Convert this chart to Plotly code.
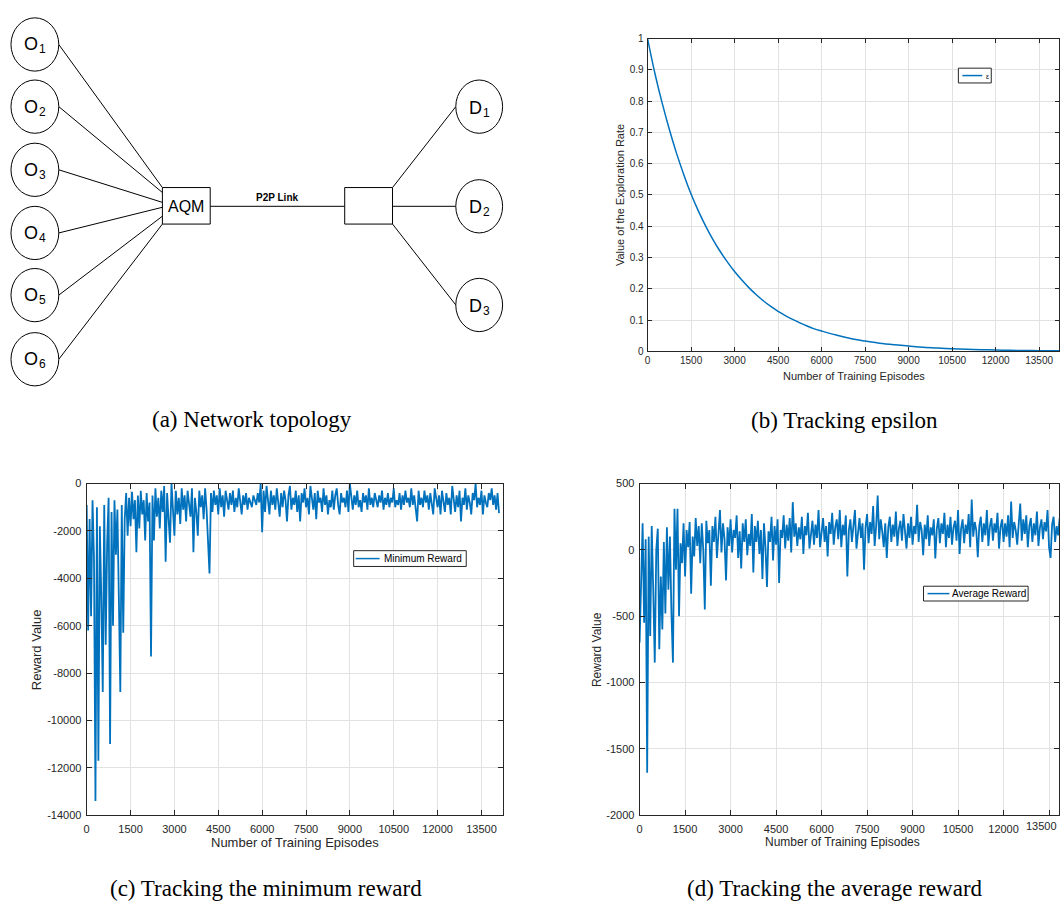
import plotly.graph_objects as go

W, H = 1060, 905

# ---------------- data ----------------
eps_episodes = [0, 250, 500, 750, 1000, 1250, 1500, 1750, 2000, 2250, 2500, 2750, 3000,
                3250, 3500, 3750, 4000, 4250, 4500, 4750, 5000, 5250, 5500, 5750, 6000,
                6500, 7000, 7500, 8000, 8500, 9000, 9500, 10000, 10500, 11000, 11500,
                12000, 12500, 13000, 13500, 14000, 14200]
eps_values = [1.0, 0.89, 0.795, 0.71, 0.633, 0.565, 0.503, 0.449, 0.401, 0.358, 0.32, 0.286,
              0.255, 0.228, 0.203, 0.181, 0.161, 0.1435, 0.128, 0.1145, 0.102, 0.091, 0.081,
              0.072, 0.065, 0.052, 0.041, 0.033, 0.026, 0.021, 0.017, 0.013, 0.0105, 0.0085,
              0.0068, 0.0054, 0.0043, 0.0034, 0.0027, 0.0022, 0.0017, 0.0016]

episode_step = 50

min_reward = [
    -900, -6200, -1500, -5600, -700, -3200, -13400, -1000, -11700, -1800, -4800, -8800, -900,
    -6800, -2500, -600, -11000, -1200, -6000, -700, -3000, -1100, -4800, -8800, -900, -6300, -1500,
    -400, -2200, -600, -1800, -350, -1500, -700, -2900, -500, -1900, -300, -1300, -700, -2400,
    -400, -1600, -800, -7300, -500, -2400, -200, -1400, -600, -1900,
    -300, -1200, -100, -3300, -400, -1500, -2500, 0, -900, -2200, -300, -1300, -600, -1700,
    -200, -1100, -500, -1600, -300, -900, -1400, -200, -2900, -600, -1200, -2200, -300, -1000,
    -500, -1500, -200, -1100, -2600, -3800, -400, -1200, -300, -900, -500, -1300,
    -200, -1000, -500, -1400, -300, -800, -1100, -400, -900, -300, -1200, -600, -1000, -200,
    -800, -1300, -500, -900, -400, -1100, -600, -800, -1000, -500, -700, -900, -400, -800, 0,
    -2050, -300, -1200, -100,
    -600, -1300, -300, -900, -500, -1100, -200, -800, -1400, -400, -1000, -300, -700, -1600,
    -500, -100, -1100, -600, -900, -300, -1200, -500, -1600, -400, -800, -200, -1000, -600,
    -1300, -100, -700, -1100, -400, -1500, -300, -800, -600, -1200, -200, -900, -500, -1300,
    -700, -1000, -300, -1100, -500, -200, -900, -1300, -400, -800, -600, -1000, -300, -1200,
    0, -700, -1100, -500, -900, -300, -1000, -700, -1200, -400, -800, -500, -1100, -200, -900,
    -600, -1000, -400, -700, -1000, -500, -800, -300, -1100, -600, -900, -400, -1000, -600,
    -800, -200, -1000, -700, -900, -400, -1100, -500, -900, -300, -800, -600, -1000, -200,
    -900, -500, -1200, -1600, -300, -900, -600, -1000, -300, -800, -500, -1100, -400, -900,
    -1300, -200, -700, -1000, -500, -1300, -300, -800, -1200, -400, -900, -600, -1300, -100,
    -800, -1200, -500, -1000, -300, -1600, -600, -900, -200, -1100, -500, -800, -1300, -400,
    -700, 0, -1000, -600, -900, -300, -1300, -500, -800, -1000, -400, -700, -200, -900, -500,
    -1100, -400, -1250,
]

avg_reward = [
    -700, -100, 200, -550, 80, -1680, 100, -650, 180, -300, -850, 0, 160, -750, -200, -600, 60,
    -480, 170, -300, 100, -480, -850, 310, -150, 310, -500,
    50, -100, 200, -200, 150, 20, 210, -330, 100, -50, 240, 30, 180, -100, 200, 0, -450, 220,
    50, 150, -270, 180, 60, 250, -60, 120, 300, -20, 200, 80, -230, 170,
    30, 230, -20, 150, 90, 260, -60, 140, -140, 200, 60, 230, -40, 120, 30, 270, -170, 180, 60,
    220, -30, 150, -220, 200, 20, -280, 140, 60, 250, -80, 180, 40, 230, -250, 150, 90, 260, 10,
    190, 70, 240, -20, 360, 100,
    200, 30, 170, 80, 250, -30, 180, 110, 280, 10, 150, 220, 40, 190, 90, 300, 20, 160, 240, 60,
    180, -50, 210, 120, 280, 40, 170, 230, 80, 300, 20, 190, 110, 260, -200, 150, 230, 60, 180,
    300, 10, 160, 240, 90, 200, -150, 170, 270, 50, 210, 120, 330, 30, 180, 410, 80, 230, 140,
    20, 200, -60, 170, 250, 60, 190, 100, 290, 30, 160, 220, 70, 270, 130, 10, 200, 90, 250, 40,
    180, 120, 340, 60, 210, 150, -40, 190, 80, 260, 30, 170, 110, 230, -65, 160, 240, 50, 200,
    120, 280, 20, 190, 90, 250, 40, 170, 220, 70, 300, -30, 160, 230, 50, 190, 120, 270, 20, 380,
    100, 210, 150, -55, 180, 250, 60, 200, 110, 300, 30, 180, 240, 70, 200, 130, 280, 10, 170,
    230, 60, 200, 100, 260, 20, 365, 90, 210, 150, 40, 190, 350, 70, 230, 120, 260, 20, 180, 240,
    60, 200, 110, 290, 30, 170, 230, 80, 210, 140, 300, 20, -60, 190, 250, 60, 180, 110, 240, 40,
    200, 150, 230, 90,
]

min_episodes = [i * episode_step for i in range(len(min_reward))]
avg_episodes = [i * episode_step for i in range(len(avg_reward))]

eps_xticks = [0, 1500, 3000, 4500, 6000, 7500, 9000, 10500, 12000, 13500]
eps_xticktext = ["0", "1500", "3000", "4500", "6000", "7500", "9000", "10500", "12000", "13500"]
eps_yticks = [0, 0.1, 0.2, 0.3, 0.4, 0.5, 0.6, 0.7, 0.8, 0.9, 1.0]
eps_yticktext = ["0", "0.1", "0.2", "0.3", "0.4", "0.5", "0.6", "0.7", "0.8", "0.9", "1"]
min_yticks = [-14000, -12000, -10000, -8000, -6000, -4000, -2000, 0]
min_yticktext = ["-14000", "-12000", "-10000", "-8000", "-6000", "-4000", "-2000", "0"]
avg_yticks = [-2000, -1500, -1000, -500, 0, 500]
avg_yticktext = ["-2000", "-1500", "-1000", "-500", "0", "500"]

origin_names = ["O", "O", "O", "O", "O", "O"]
origin_index = ["1", "2", "3", "4", "5", "6"]
dest_names = ["D", "D", "D"]
dest_index = ["1", "2", "3"]

# ---------------- helpers ----------------
def fx(p):
    return p / W


def fy(p):
    return 1 - p / H


BLUE = "#0072BD"
AX = "#262626"
GRID = "#e2e2e2"
SANS = "Liberation Sans, Arial, Helvetica, sans-serif"
SERIF = "Liberation Serif, Times New Roman, serif"


def make_axis(domain, rng, tickvals, ticktext, fs, ticklen, anchor, standoff=0):
    return dict(domain=domain, range=rng, tickmode="array", tickvals=tickvals,
                ticktext=ticktext, showline=True, linecolor=AX, linewidth=1,
                mirror="ticks", ticks="inside", ticklen=ticklen, tickcolor=AX,
                tickwidth=1, showgrid=True, gridcolor=GRID, gridwidth=1,
                zeroline=False, tickfont=dict(family=SANS, size=fs, color=AX),
                ticklabelstandoff=standoff, anchor=anchor, fixedrange=True)


fig = go.Figure()

fig.add_trace(go.Scatter(x=eps_episodes, y=eps_values, mode="lines", name="ε",
                         line=dict(color=BLUE, width=1.5, shape="spline"),
                         xaxis="x", yaxis="y", showlegend=False))
fig.add_trace(go.Scatter(x=min_episodes, y=min_reward, mode="lines", name="Minimum Reward",
                         line=dict(color=BLUE, width=1.8), xaxis="x2", yaxis="y2",
                         showlegend=False))
fig.add_trace(go.Scatter(x=avg_episodes, y=avg_reward, mode="lines", name="Average Reward",
                         line=dict(color=BLUE, width=1.8), xaxis="x3", yaxis="y3",
                         showlegend=False))

# plot boxes (pixels)
b_box = (647, 33, 1060, 350)
c_box = (84, 484, 502, 820)
d_box = (639, 484, 1060, 820)

layout = dict(
    width=W, height=H, margin=dict(l=0, r=0, t=0, b=0),
    paper_bgcolor="white", plot_bgcolor="white", showlegend=False,
    xaxis=make_axis([fx(b_box[0]), fx(b_box[2])], [0, 14186], eps_xticks, eps_xticktext, 10, 4, "y"),
    yaxis=make_axis([fy(b_box[3]), fy(b_box[1])], [0, 1], eps_yticks, eps_yticktext, 10, 4, "x", 1),
    xaxis2=make_axis([fx(c_box[0]), fx(c_box[2])], [0, 14240], eps_xticks, eps_xticktext, 11, 5, "y2", 4),
    yaxis2=make_axis([fy(c_box[3]), fy(c_box[1])], [-14000, 0], min_yticks, min_yticktext, 11, 5, "x2", 2),
    xaxis3=make_axis([fx(d_box[0]), fx(d_box[2])], [0, 13828], eps_xticks, eps_xticktext, 11, 5, "y3", 4),
    yaxis3=make_axis([fy(d_box[3]), fy(d_box[1])], [-2000, 500], avg_yticks, avg_yticktext, 11, 5, "x3", 2),
)
fig.update_layout(**layout)

shapes = []
ann = []


def line(x0, y0, x1, y1, color="black", width=1):
    shapes.append(dict(type="line", xref="paper", yref="paper", x0=fx(x0), y0=fy(y0),
                       x1=fx(x1), y1=fy(y1), line=dict(color=color, width=width)))


def rect(x0, y0, x1, y1, color="black", width=1):
    shapes.append(dict(type="rect", xref="paper", yref="paper", x0=fx(x0), y0=fy(y1),
                       x1=fx(x1), y1=fy(y0), line=dict(color=color, width=width),
                       fillcolor="white"))


def ellipse(cx, cy, rx, ry):
    shapes.append(dict(type="circle", xref="paper", yref="paper", x0=fx(cx - rx),
                       y0=fy(cy + ry), x1=fx(cx + rx), y1=fy(cy - ry),
                       line=dict(color="black", width=1), fillcolor="white"))


def text(x, y, s, size, family=SANS, color=AX, angle=0, xanchor="center", yanchor="middle",
         bold=False):
    if bold:
        s = "<b>" + s + "</b>"
    ann.append(dict(x=fx(x), y=fy(y), xref="paper", yref="paper", text=s, showarrow=False,
                    font=dict(family=family, size=size, color=color), textangle=angle,
                    xanchor=xanchor, yanchor=yanchor))


# ---------------- (a) network topology ----------------
o_cx, o_rx, o_ry = 32, 24, 27
o_cy = [39, 102, 166, 230, 293, 358]
o_end = [184, 189, 199, 204, 213, 221]
aqm = (160, 184, 208, 221)
rbox = (343, 184, 391, 221)
d_cx, d_rx, d_ry = 478, 23.5, 27
d_cy = [102, 203, 303]
r_start = [184, 203, 221]

for cy, ey in zip(o_cy, o_end):
    line(o_cx + o_rx, cy, aqm[0], ey)
line(aqm[2], 203, rbox[0], 203)
for cy, sy in zip(d_cy, r_start):
    line(rbox[2], sy, d_cx - d_rx, cy)
for cy, nm, ix in zip(o_cy, origin_names, origin_index):
    ellipse(o_cx, cy, o_rx, o_ry)
    text(o_cx - 3.5, cy, nm, 18, color="black")
    text(o_cx + 7.5, cy + 5, ix, 12, color="black")
for cy, nm, ix in zip(d_cy, dest_names, dest_index):
    ellipse(d_cx, cy, d_rx, d_ry)
    text(d_cx - 4, cy + 1, nm, 18, color="black")
    text(d_cx + 7, cy + 6, ix, 12, color="black")
rect(*aqm)
rect(*rbox)
text((aqm[0] + aqm[2]) / 2, 203, "AQM", 16, color="black")
text(275, 194, "P2P Link", 10, color="black", bold=True)

# ---------------- axis titles ----------------
text(854, 375, "Number of Training Episodes", 11)
text(620, 192, "Value of the Exploration Rate", 11, angle=-90)
text(293, 848, "Number of Training Episodes", 13)
text(33, 652, "Reward Value", 13, angle=-90)
text(843, 847, "Number of Training Episodes", 12)
text(597, 652, "Reward Value", 12, angle=-90)
# last tick label of (d) sits at the cropped right edge
text(1060, 831, eps_xticktext[-1], 11, xanchor="right")

# ---------------- legends ----------------
rect(959, 63, 992, 78, color=AX)
line(963, 70.5, 983, 70.5, color=BLUE, width=1.5)
text(985, 71, "ε", 7, color="black", xanchor="left")

rect(352, 552, 465, 568, color=AX)
line(354, 560, 378, 560, color=BLUE, width=1.5)
text(380, 560, "Minimum Reward", 10, color="black", xanchor="left")

rect(924, 588, 1029, 603, color=AX)
line(928, 595.5, 950, 595.5, color=BLUE, width=1.5)
text(951, 595.5, "Average Reward", 10, color="black", xanchor="left")

# ---------------- captions ----------------
text(250, 419, "(a) Network topology", 23, family=SERIF, color="black")
text(845, 420, "(b) Tracking epsilon", 23, family=SERIF, color="black")
text(264, 894, "(c) Tracking the minimum reward", 23, family=SERIF, color="black")
text(835, 894, "(d) Tracking the average reward", 23, family=SERIF, color="black")

fig.update_layout(shapes=shapes, annotations=ann)
fig.write_html("out.html")
